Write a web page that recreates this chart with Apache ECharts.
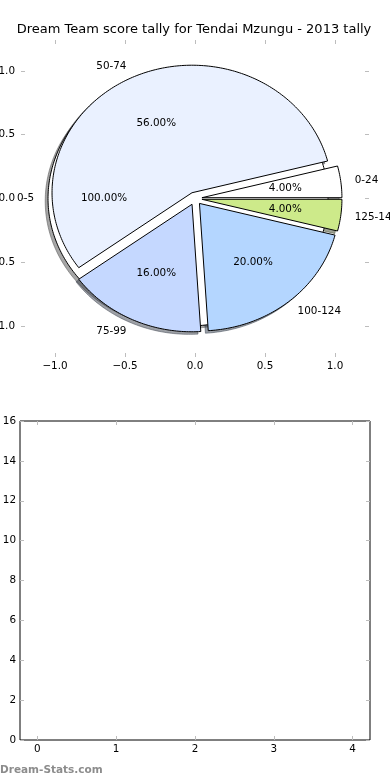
<!DOCTYPE html>
<html><head><meta charset="utf-8">
<script src="https://cdn.jsdelivr.net/npm/echarts@6/dist/echarts.min.js"></script>
<style>html,body{margin:0;padding:0;background:#fff}#c{width:390px;height:780px}</style>
</head><body><div id="c"></div>
<script>
const chartTitle = 'Dream Team score tally for Tendai Mzungu - 2013 tally';
const watermark = 'Dream-Stats.com';
// back pie (single full wedge)
const backLabels = ['0-5'];
const backValues = [1];
const backColors = ['#ffffff'];
// front pie
const sliceLabels = ['0-24', '50-74', '75-99', '100-124', '125-149'];
const sliceValues = [1, 14, 4, 5, 1];
const sliceColors = ['#ffffff', '#eaf1ff', '#c5d8ff', '#b4d6ff', '#cdea8a'];
// axes ticks
const pieTicks = [-1, -0.5, 0, 0.5, 1];
const barXTicks = [0, 1, 2, 3, 4];

const EXPLODE = 0.05, SHADOW = -0.02;
const FONT = '"DejaVu Sans", sans-serif';

function buildWedges(labels, values, colors, pie) {
  const total = values.reduce((a, b) => a + b, 0);
  let acc = 0;
  return values.map((v, i) => {
    const t1 = acc / total * 360; acc += v; const t2 = acc / total * 360;
    return { pie, label: labels[i], color: colors[i], t1, t2, pct: (v / total * 100).toFixed(2) + '%' };
  });
}
const wedges = buildWedges(backLabels, backValues, backColors, 0)
  .concat(buildWedges(sliceLabels, sliceValues, sliceColors, 1));

function center(w) {
  const m = (w.t1 + w.t2) / 2 * Math.PI / 180;
  return [EXPLODE * Math.cos(m), EXPLODE * Math.sin(m), m];
}
function wedgeShape(api, w, dx, dy) {
  const c = center(w);
  const cx = c[0] + dx, cy = c[1] + dy;
  const full = (w.t2 - w.t1) >= 359.999;
  const pts = [];
  if (!full) pts.push(api.coord([cx, cy]));
  const n = Math.max(4, Math.ceil(w.t2 - w.t1));
  for (let i = 0; i <= n; i++) {
    const a = (w.t1 + (w.t2 - w.t1) * i / n) * Math.PI / 180;
    pts.push(api.coord([cx + Math.cos(a), cy + Math.sin(a)]));
  }
  return { type: 'polygon', shape: { points: pts } };
}
function shadowColor(hex) {
  const r = parseInt(hex.slice(1, 3), 16), g = parseInt(hex.slice(3, 5), 16), b = parseInt(hex.slice(5, 7), 16);
  return 'rgba(' + Math.round(r * 0.3) + ',' + Math.round(g * 0.3) + ',' + Math.round(b * 0.3) + ',0.5)';
}
function fmt1(v) { return v.toFixed(1).replace('-', '\u2212'); }

const tickStyle = { color: '#bdbdbd', width: 1 };
const labelBase = { color: '#000', fontSize: 10.4, fontFamily: FONT };
const noLine = { show: false, onZero: false };

function pieAxis(pos, showLabel, isX) {
  return {
    type: 'value', gridIndex: 0, position: pos, min: -1.243, max: 1.243,
    axisLine: noLine, splitLine: { show: false },
    axisTick: { show: true, inside: true, length: 4, lineStyle: tickStyle, customValues: pieTicks },
    axisLabel: Object.assign({ show: showLabel, customValues: pieTicks, formatter: fmt1, margin: isX ? 4 : 6 }, labelBase)
  };
}
function barX(pos, showLabel) {
  return {
    type: 'value', gridIndex: 1, position: pos, min: -0.22, max: 4.22,
    axisLine: noLine, splitLine: { show: false },
    axisTick: { show: true, inside: true, length: 4, lineStyle: tickStyle, customValues: barXTicks },
    axisLabel: Object.assign({ show: showLabel, customValues: barXTicks, formatter: v => String(v), margin: 4 }, labelBase)
  };
}
function barY(pos, showLabel) {
  return {
    type: 'value', gridIndex: 1, position: pos, min: 0, max: 16, interval: 2,
    axisLine: noLine, splitLine: { show: false },
    axisTick: { show: true, inside: true, length: 4, lineStyle: tickStyle },
    axisLabel: Object.assign({ show: showLabel, margin: 4, showMinLabel: true, showMaxLabel: true }, labelBase)
  };
}

const chart = echarts.init(document.getElementById('c'), null, { renderer: 'canvas', width: 390, height: 780 });
const wedgeData = wedges.map(() => [0, 0]);

chart.setOption({
  animation: false,
  backgroundColor: '#ffffff',
  grid: [
    { left: 21, top: 40, width: 348, height: 317, show: false, containLabel: false, outerBoundsMode: 'none' },
    { left: 20, top: 421, width: 350, height: 319, show: true, borderColor: '#000', borderWidth: 1, backgroundColor: 'transparent', containLabel: false, outerBoundsMode: 'none' }
  ],
  xAxis: [pieAxis('bottom', true, true), pieAxis('top', false, true), barX('bottom', true), barX('top', false)],
  yAxis: [pieAxis('left', true, false), pieAxis('right', false, false), barY('left', true), barY('right', false)],
  graphic: [
    { type: 'text', x: 194, y: 30, style: { text: chartTitle, align: 'center', verticalAlign: 'middle', font: '13px ' + FONT, fill: '#000' } },
    { type: 'text', x: 0, y: 770, style: { text: watermark, align: 'left', verticalAlign: 'middle', font: 'bold 10.5px ' + FONT, fill: '#8c8c8c' } }
  ],
  series: [
    { type: 'custom', coordinateSystem: 'cartesian2d', xAxisIndex: 0, yAxisIndex: 0, clip: false, silent: true, z: 1,
      data: wedgeData,
      renderItem: (p, api) => {
        const w = wedges[p.dataIndex];
        const s = wedgeShape(api, w, SHADOW, SHADOW);
        const c = shadowColor(w.color);
        s.style = { fill: c, stroke: c, lineWidth: 1 };
        return s;
      } },
    { type: 'custom', coordinateSystem: 'cartesian2d', xAxisIndex: 0, yAxisIndex: 0, clip: false, silent: true, z: 2,
      data: wedgeData,
      renderItem: (p, api) => {
        const w = wedges[p.dataIndex];
        if (w.pie !== 0) return null;
        const s = wedgeShape(api, w, 0, 0);
        s.style = { fill: w.color, stroke: '#000', lineWidth: 1 };
        return s;
      } },
    { type: 'custom', coordinateSystem: 'cartesian2d', xAxisIndex: 0, yAxisIndex: 0, clip: false, silent: true, z: 3,
      data: wedgeData,
      renderItem: (p, api) => {
        const w = wedges[p.dataIndex];
        if (w.pie !== 1) return null;
        const s = wedgeShape(api, w, 0, 0);
        s.style = { fill: w.color, stroke: '#000', lineWidth: 1 };
        return s;
      } },
    { type: 'custom', coordinateSystem: 'cartesian2d', xAxisIndex: 0, yAxisIndex: 0, clip: false, silent: true, z: 4,
      data: wedgeData,
      renderItem: (p, api) => {
        const w = wedges[p.dataIndex];
        const c = center(w), m = c[2];
        const lx = c[0] + 1.1 * Math.cos(m), ly = c[1] + 1.1 * Math.sin(m);
        const px = c[0] + 0.6 * Math.cos(m), py = c[1] + 0.6 * Math.sin(m);
        const lp = api.coord([lx, ly]), pp = api.coord([px, py]);
        return { type: 'group', children: [
          { type: 'text', style: { x: lp[0], y: lp[1], text: w.label, align: lx > 0 ? 'left' : 'right', verticalAlign: 'middle', font: '10.4px ' + FONT, fill: '#000' } },
          { type: 'text', style: { x: pp[0], y: pp[1], text: w.pct, align: 'center', verticalAlign: 'middle', font: '10.4px ' + FONT, fill: '#000' } }
        ] };
      } }
  ]
});
</script>
</body></html>
